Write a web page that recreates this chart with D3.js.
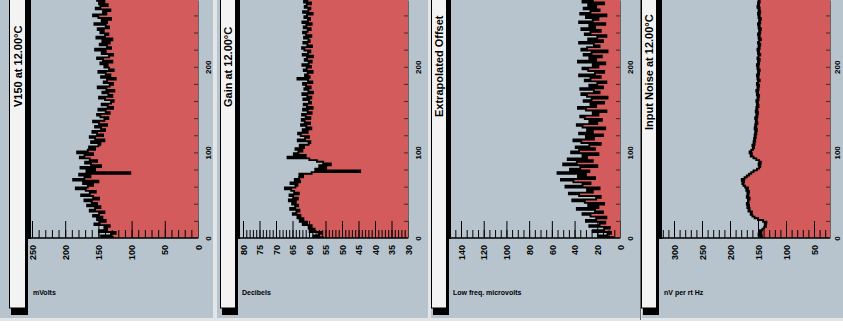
<!DOCTYPE html>
<html><head><meta charset="utf-8">
<script src="https://cdn.jsdelivr.net/npm/d3@7"></script>
<style>body{margin:0;background:#fff}svg{display:block}</style>
</head><body><svg id="c" width="843" height="333"></svg>
<script>
// ---------------- data ----------------
const panelTitles = ["V150 at 12.00°C", "Gain at 12.00°C", "Extrapolated Offset", "Input Noise at 12.00°C"];
const valueAxisLabels = ["mVolts", "Decibels", "Low freq. microvolts", "nV per rt Hz"];
const sampleStep = 2; // sample index spacing
const indexTicks = [0, 100, 200];

const v150 = [128,146,131,124,149,137,
141,133,156,148,139,152,144,
158,149,141,163,155,147,167,152,
160,171,149,158,176,163,154,169,
184,166,158,173,150,188,171,162,179,
102,
168,155,177,146,161,170,152,
163,178,171,158,182,166,155,
164,150,147,161,141,155,163,143,
152,159,140,146,155,137,149,158,141,135,
147,152,133,139,150,128,136,145,131,127,
140,149,129,135,144,126,138,151,133,128,142,137,124,146,132,139,150,127,134,141,
136,147,129,143,152,134,128,145,139,155,131,137,148,133,144,129,153,140,135,147,
142,151,134,139,156,137,145,131,150,158,138,143,132,154,147,136,149,141,152];

const gain = [55.8,58.6,57.1,56.2,59.8,58.3,
60.1,59.2,61.9,60.6,62.8,61.7,63.5,
62.6,64.9,63.8,62.9,65.7,64.2,63.3,65.1,
64.0,66.1,63.4,64.8,65.9,63.1,64.5,65.4,
67.3,64.1,63.5,65.6,62.7,64.3,63.0,61.8,62.9,
59.2,44.5,
58.1,54.8,56.9,53.4,55.7,57.6,59.9,
66.5,
61.0,64.6,63.2,62.0,64.1,
61.5,62.8,60.1,59.6,63.4,61.2,60.0,62.5,
63.3,60.4,61.9,59.3,60.8,62.4,59.7,61.3,62.2,59.6,
61.0,62.1,59.2,60.4,61.8,58.9,60.6,61.6,59.4,60.0,
61.7,59.3,60.5,62.0,58.8,60.2,61.4,59.5,60.9,61.8,59.0,60.3,
63.5,
59.8,61.2,60.4,58.9,61.6,60.7,59.4,62.0,60.1,59.2,61.3,60.6,58.8,61.9,60.3,59.6,61.4,62.1,59.1,60.5,61.7,59.8,60.2,61.5,59.3,60.9,61.8,
60.4,59.5,61.6,60.8,59.2,62.0,60.3,59.7,61.4,60.6,58.9,61.8,60.2,59.6,61.3,60.7,59.4,61.5,60.5];

const offset = [6,19,11,8,24,14,
9,27,18,13,30,21,12,
26,33,15,22,38,19,28,14,
31,42,21,17,36,45,24,29,
18,48,33,26,41,52,22,37,30,
55,27,44,35,20,50,38,24,
46,29,33,19,43,36,22,
39,27,17,34,41,23,30,15,
36,24,29,13,33,38,20,27,16,31,
35,19,24,12,30,37,21,26,14,32,
25,11,29,34,18,23,35,15,27,20,12,31,26,17,36,22,14,28,33,19,
24,13,37,21,27,16,32,25,11,34,29,18,23,36,15,28,20,12,31,26,
17,34,22,27,13,36,24,19,30,12,35,26,18,32,21,28,14,33,24];

const noise = [146,143,149,144,147,142,139,136,138,135,141,150,156,160,163,161,167,165,169,166,
170,167,168,165,170,167,169,166,171,168,173,176,178,175,179,174,170,166,162,158,
152,148,146,149,145,148,153,158,163,161,165,162,159,157,160,156,158,155,157,154,
156,153,155,152,156,153,155,151,154,152,155,151,153,150,154,151,153,149,152,150,
153,149,151,148,152,150,153,149,151,148,152,150,147,151,149,152,148,150,147,151,
149,152,148,150,147,151,149,146,150,148,151,147,149,146,150,148,145,149,147,150,
146,148,145,149,147,150,146,148,145,149,147,150,146,149,147,151,148,150,147,149];

const seriesList = [v150, gain, offset, noise];
const valueTickLabels = [
  [250, 200, 150, 100, 50, 0],
  [80, 75, 70, 65, 60, 55, 50, 45, 40, 35, 30],
  [140, 120, 100, 80, 60, 40, 20, 0],
  [300, 250, 200, 150, 100, 50]
];
const minorSteps = [10, 1, 5, 10];

// ---------------- layout ----------------
const W = 843, H = 333;
const axisY = 238, bgBottom = 318;
const layout = [
  {bg:[0,213],   box:[9,26],    frame:29.5,  plot:[31,198],  lab:[32,198],  titleY:107, idxLab:10},
  {bg:[217,428], box:[220,236], frame:238.5, plot:[240,408], lab:[243,408], titleY:107, idxLab:10},
  {bg:[431,640], box:[431,447], frame:449.5, plot:[451,620], lab:[461,620], titleY:117, idxLab:10},
  {bg:[642,843], box:[641,657], frame:660.5, plot:[662,830], lab:[674,814], titleY:130, idxLab:7}
];
const C = {bg:"#b7c4ce", gap:"#e2e6e9", red:"#d45b5b", box:"#f3f3f3", ink:"#000"};
const FONT = "'Liberation Sans', Arial, sans-serif";

const svg = d3.select("#c");
svg.append("rect").attr("width", W).attr("height", 321).attr("fill", C.gap);

const yIdx = d3.scaleLinear().domain([0, 278]).range([axisY, 0]);

layout.forEach((L, p) => {
  const data = seriesList[p].map((v, i) => ({i: i * sampleStep, v}));
  const ticksLab = valueTickLabels[p];
  const x = d3.scaleLinear()
    .domain([ticksLab[0], ticksLab[ticksLab.length - 1]])
    .range(L.lab);
  const g = svg.append("g");

  g.append("rect").attr("x", L.bg[0]).attr("y", 0)
    .attr("width", L.bg[1] - L.bg[0]).attr("height", bgBottom).attr("fill", C.bg);

  const cid = "clip" + p;
  svg.append("clipPath").attr("id", cid).append("rect")
    .attr("x", L.plot[0]).attr("y", 0)
    .attr("width", L.plot[1] - L.plot[0]).attr("height", axisY);

  const pg = g.append("g").attr("clip-path", `url(#${cid})`);
  // drawn in a swapped frame (X = index position, Y = value position), then swapped back
  const sw = pg.append("g").attr("transform", "matrix(0 1 1 0 0 0)");
  sw.append("path").datum(data)
    .attr("fill", C.red)
    .attr("d", d3.area().curve(d3.curveStep).x(d => yIdx(d.i)).y0(L.plot[1]).y1(d => x(d.v)));
  sw.append("path").datum(data)
    .attr("fill", "none").attr("stroke", C.ink).attr("stroke-width", 1.9)
    .attr("d", d3.line().curve(d3.curveStep).x(d => yIdx(d.i)).y(d => x(d.v)));

  // value axis ticks (bottom, pointing up)
  const vLo = x.invert(L.plot[1]), vHi = x.invert(L.plot[0]);
  const ms = minorSteps[p];
  const minorVals = d3.range(Math.ceil(Math.min(vLo, vHi) / ms) * ms, Math.max(vLo, vHi) + 1e-9, ms);
  const minorAxis = d3.axisBottom(x).tickValues(minorVals).tickSizeInner(-8).tickSizeOuter(0).tickFormat("");
  const ma = g.append("g").attr("transform", `translate(0,${axisY})`).call(minorAxis);
  ma.select(".domain").remove();
  ma.selectAll("line").attr("stroke", C.ink).attr("stroke-width", 1);

  const majorAxis = d3.axisBottom(x).tickValues(ticksLab).tickSizeInner(-17).tickSizeOuter(0);
  const MA = g.append("g").attr("transform", `translate(0,${axisY})`).call(majorAxis);
  MA.select(".domain").remove();
  MA.selectAll("line").attr("stroke", C.ink).attr("stroke-width", 1);
  MA.selectAll("text")
    .attr("transform", "rotate(-90)")
    .attr("x", -7).attr("y", 0).attr("dy", "0.35em")
    .attr("text-anchor", "end")
    .attr("font-family", FONT).attr("font-size", 9).attr("font-weight", "bold")
    .attr("fill", C.ink);

  g.append("line").attr("x1", L.plot[0]).attr("x2", L.plot[1])
    .attr("y1", axisY).attr("y2", axisY).attr("stroke", C.ink).attr("stroke-width", 1.5);

  // right index axis
  const idxMinor = d3.axisRight(yIdx).tickValues(d3.range(20, 280, 20)).tickSizeInner(-4).tickSizeOuter(0).tickFormat("");
  const im = g.append("g").attr("transform", `translate(${L.plot[1]},0)`).call(idxMinor);
  im.select(".domain").attr("stroke", "#5a4a4a").attr("stroke-width", 0.8);
  im.selectAll("line").attr("stroke", "#333");
  const idxMajor = d3.axisRight(yIdx).tickValues(indexTicks).tickSizeInner(0).tickSizeOuter(0);
  const iM = g.append("g").attr("transform", `translate(${L.plot[1]},0)`).call(idxMajor);
  iM.select(".domain").remove();
  iM.selectAll("text")
    .attr("transform", `translate(${L.idxLab},0) rotate(-90)`)
    .attr("x", 0).attr("y", 0).attr("dy", "0.35em")
    .attr("text-anchor", "middle")
    .attr("font-family", FONT).attr("font-size", 8).attr("font-weight", "bold")
    .attr("fill", C.ink);

  // title box with shadow
  g.append("rect").attr("x", L.box[0] + 2).attr("y", -5)
    .attr("width", L.box[1] - L.box[0]).attr("height", 313 + 7)
    .attr("fill", C.ink);
  g.append("rect").attr("x", L.box[0] + 0.5).attr("y", -5)
    .attr("width", L.box[1] - L.box[0] - 1).attr("height", 318 - 5)
    .attr("fill", C.box).attr("stroke", C.ink).attr("stroke-width", 1);
  g.append("text")
    .attr("transform", `translate(${(L.box[0] + L.box[1]) / 2 + 0.5},${L.titleY}) rotate(-90)`)
    .attr("dy", "0.36em")
    .attr("font-family", FONT).attr("font-size", 11).attr("font-weight", "bold")
    .attr("fill", C.ink)
    .text(panelTitles[p]);

  // thick frame line at plot left
  g.append("line").attr("x1", L.frame).attr("x2", L.frame)
    .attr("y1", 0).attr("y2", axisY + 1)
    .attr("stroke", C.ink).attr("stroke-width", 3);

  // value axis title
  g.append("text").attr("x", L.plot[0] + 2).attr("y", 293)
    .attr("dy", "0.35em")
    .attr("font-family", FONT).attr("font-size", 7).attr("font-weight", "bold")
    .attr("fill", C.ink)
    .text(valueAxisLabels[p]);
});

svg.append("line").attr("x1", 640.5).attr("x2", 640.5).attr("y1", 0).attr("y2", 320)
  .attr("stroke", "#666").attr("stroke-width", 1);
</script></body></html>
